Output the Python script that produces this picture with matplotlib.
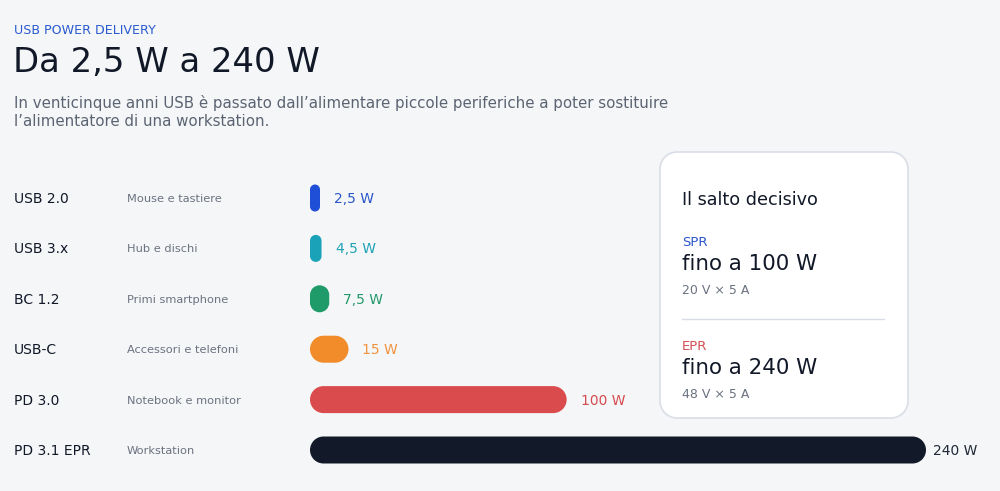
import matplotlib
matplotlib.use("Agg")
import numpy as np
import matplotlib.pyplot as plt
from matplotlib.patches import PathPatch
from matplotlib.path import Path
from matplotlib.transforms import IdentityTransform

# ---- data ----
standards = ["USB 2.0", "USB 3.x", "BC 1.2", "USB-C", "PD 3.0", "PD 3.1 EPR"]
uses = ["Mouse e tastiere", "Hub e dischi", "Primi smartphone",
        "Accessori e telefoni", "Notebook e monitor", "Workstation"]
watts = [2.5, 4.5, 7.5, 15, 100, 240]
value_labels = ["2,5 W", "4,5 W", "7,5 W", "15 W", "100 W", "240 W"]
bar_colors = ["#1f4fd6", "#1aa3b8", "#1e9b68", "#f28c2a", "#d94b4c", "#121a2a"]
label_colors = ["#2a56c9", "#1fa3b5", "#22996a", "#ef9340", "#d44c50", "#1f2937"]

kicker = "USB POWER DELIVERY"
title = "Da 2,5 W a 240 W"
subtitle = ["In venticinque anni USB è passato dall\u2019alimentare piccole periferiche a poter sostituire",
            "l\u2019alimentatore di una workstation."]
card_title = "Il salto decisivo"
card_tags = ["SPR", "EPR"]
card_values = ["fino a 100 W", "fino a 240 W"]
card_notes = ["20 V \u00d7 5 A", "48 V \u00d7 5 A"]
card_tag_colors = ["#2a56c9", "#d44c50"]

W, H = 1000, 491
BG = "#f5f6f8"
DARK = "#111827"
GRAY = "#6b7280"

plt.rcParams['font.family'] = ['DejaVu Sans']
fig = plt.figure(figsize=(W / 100, H / 100), dpi=100, facecolor=BG)


def fx(px):
    return px / W


def fy(py):
    return 1 - py / H


def rounded_rect(x, y, w, h, r):
    """Rounded rectangle path (display coords) with true circular corners."""
    r = min(r, w / 2, h / 2)
    verts, codes = [], []

    def add_arc(cx, cy, t1, t2, first=False):
        a = Path.arc(t1, t2)
        v = a.vertices * r + np.array([cx, cy])
        c = list(a.codes)
        if not first:
            c[0] = Path.LINETO
        verts.extend(v.tolist())
        codes.extend(c)

    add_arc(x + w - r, y + r, 270, 360, first=True)
    add_arc(x + w - r, y + h - r, 0, 90)
    add_arc(x + r, y + h - r, 90, 180)
    add_arc(x + r, y + r, 180, 270)
    verts.append(verts[0])
    codes.append(Path.CLOSEPOLY)
    return Path(verts, codes)


# header
fig.text(fx(14), fy(31), kicker, fontsize=9.1, color="#2a5bd0", va="center", ha="left")
fig.text(fx(13), fy(62), title, fontsize=24.4, color=DARK, va="center", ha="left")
fig.text(fx(14), fy(103), subtitle[0], fontsize=10.8, color="#5b6472", va="center", ha="left")
fig.text(fx(14), fy(122), subtitle[1], fontsize=10.8, color="#5b6472", va="center", ha="left")

# bar axes
x0_px, x1_px = 310, 926
row0, row_step = 198, 50.4
n = len(standards)
top_px = row0 - row_step / 2
bot_px = row0 + row_step * (n - 0.5)
ax = fig.add_axes([fx(x0_px), fy(bot_px), fx(x1_px - x0_px), (bot_px - top_px) / H])
ax.set_xlim(0, 240)
ax.set_ylim(n - 0.5, -0.5)
ax.axis("off")
ax.patch.set_alpha(0)

bar_h = 27
min_w = 10
fig.canvas.draw()
trans = ax.transData
for i, (v, c) in enumerate(zip(watts, bar_colors)):
    (xa, yc) = trans.transform((0, i))
    (xb, _) = trans.transform((v, i))
    w = max(xb - xa, min_w)
    p = PathPatch(rounded_rect(xa, yc - bar_h / 2, w, bar_h, bar_h / 2),
                  transform=IdentityTransform(), facecolor=c, edgecolor="none")
    fig.patches.append(p)
    lx = min(xa + w + 14, 933)
    fig.text(lx / W, (yc - 1) / H, value_labels[i], fontsize=10, color=label_colors[i],
             va="center", ha="left")
    fig.text(fx(14), (yc - 1) / H, standards[i], fontsize=10, color=DARK, va="center", ha="left")
    fig.text(fx(127), (yc - 1) / H, uses[i], fontsize=8.2, color=GRAY, va="center", ha="left")

# card
cx0, cy0, cx1, cy1 = 660, 152, 908, 418
card = PathPatch(rounded_rect(cx0, H - cy1, cx1 - cx0, cy1 - cy0, 17),
                 transform=IdentityTransform(), facecolor="white",
                 edgecolor="#d9dde5", linewidth=1.2)
fig.patches.append(card)
fig.text(fx(682), fy(200), card_title, fontsize=12.7, color=DARK, va="center", ha="left")
for k, base in enumerate([242, 346]):
    fig.text(fx(682), fy(base), card_tags[k], fontsize=9.5, color=card_tag_colors[k],
             va="center", ha="left")
    fig.text(fx(682), fy(base + 22), card_values[k], fontsize=15.4, color=DARK,
             va="center", ha="left")
    fig.text(fx(682), fy(base + 48), card_notes[k], fontsize=9, color=GRAY,
             va="center", ha="left")
fig.add_artist(plt.Line2D([fx(682), fx(884)], [fy(319), fy(319)], color="#d8dce6",
                          linewidth=1, transform=fig.transFigure))

fig.savefig("out.png", dpi=100, facecolor=BG)
